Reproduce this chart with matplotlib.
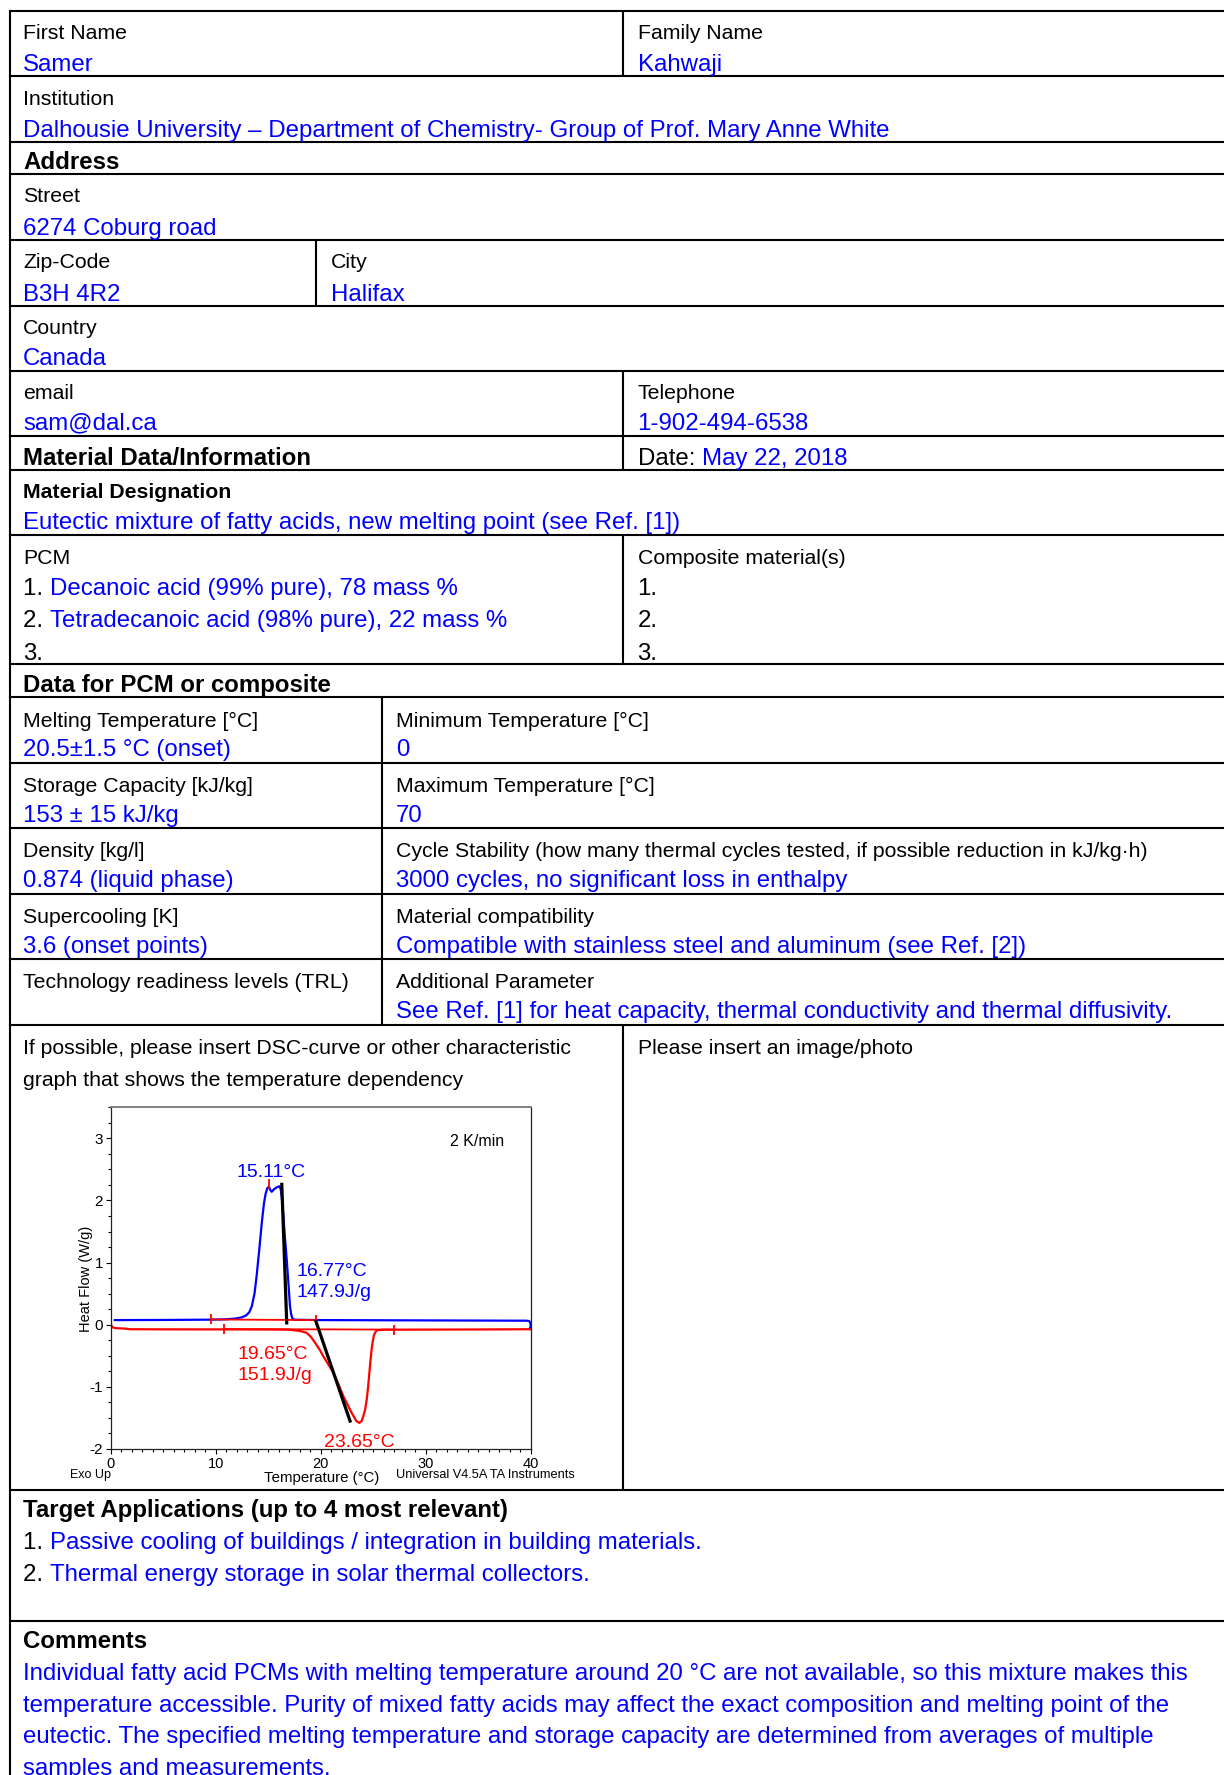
import matplotlib
matplotlib.use('Agg')
import matplotlib.pyplot as plt
from matplotlib.ticker import MultipleLocator, FixedLocator, FuncFormatter

plt.rcParams['font.family'] = ['Liberation Sans', 'DejaVu Sans']
plt.rcParams['axes.unicode_minus'] = False

BLUE = '#0000FF'
RED = '#FF0000'

# ---------------- DSC data ----------------
cool_T = [0.4, 5, 9.6, 11.0, 11.9, 12.5, 12.9, 13.2, 13.45, 13.7, 13.9, 14.15, 14.4, 14.6,
          14.75, 14.92, 15.09, 15.2, 15.34, 15.55, 15.8, 16.07, 16.2, 16.3, 16.45, 16.6,
          16.77, 16.95, 17.08, 17.2, 17.34, 17.6, 20, 30, 39.6, 39.85, 39.97, 40.0, 39.9]
cool_HF = [0.075, 0.077, 0.082, 0.088, 0.1, 0.12, 0.15, 0.2, 0.3, 0.5, 0.78, 1.2, 1.65, 1.95,
           2.1, 2.2, 2.22, 2.17, 2.14, 2.18, 2.21, 2.23, 2.18, 2.05, 1.75, 1.4,
           1.05, 0.62, 0.30, 0.16, 0.09, 0.08, 0.075, 0.07, 0.065, 0.06, 0.03, -0.02, -0.068]

heat_T = [0.0, 0.05, 0.15, 0.5, 1.4, 1.8, 5, 10, 15, 17, 18.04, 18.67, 19.1, 19.47, 19.9,
          20.26, 20.7, 21.2, 21.7, 22.16, 22.6, 22.96, 23.4, 23.69, 23.9, 24.07, 24.25,
          24.39, 24.52, 24.64, 24.75, 24.87, 24.98, 25.09, 25.25, 25.4, 26, 30, 35, 39.9]
heat_HF = [0.05, 0.0, -0.04, -0.055, -0.062, -0.072, -0.074, -0.075, -0.076, -0.08, -0.1,
           -0.13, -0.2, -0.29, -0.40, -0.51, -0.63, -0.77, -0.96, -1.15, -1.30, -1.42, -1.55,
           -1.58, -1.55, -1.47, -1.35, -1.2, -1.0, -0.77, -0.57, -0.37, -0.25, -0.16, -0.11,
           -0.087, -0.08, -0.078, -0.076, -0.072]

cool_tangent_T = [16.3, 16.77]
cool_tangent_HF = [2.26, 0.03]
heat_tangent_T = [19.56, 22.8]
heat_tangent_HF = [0.05, -1.55]
cool_integ_T = [9.6, 19.6]
cool_integ_HF = [0.085, 0.075]
heat_integ_T = [10.75, 27.0]
heat_integ_HF = [-0.07, -0.078]
cool_peak_T = [15.09]
cool_peak_HF = [2.26]

x_ticks = [0, 10, 20, 30, 40]
y_ticks = [-2, -1, 0, 1, 2, 3]

# annotations: (x, y, text, color, size, ha)
chart_notes = [
    (15.25, 2.385, '15.11°C', BLUE, 14, 'center'),
    (17.68, 0.78, '16.77°C', BLUE, 14, 'left'),
    (17.68, 0.45, '147.9J/g', BLUE, 14, 'left'),
    (12.13, -0.55, '19.65°C', RED, 14, 'left'),
    (12.13, -0.89, '151.9J/g', RED, 14, 'left'),
    (23.71, -1.96, '23.65°C', RED, 14, 'center'),
    (34.87, 2.88, '2 K/min', 'black', 11.5, 'center'),
]

# ---------------- Form content ----------------
first_name = 'Samer'
family_name = 'Kahwaji'
institution = 'Dalhousie University \u2013 Department of Chemistry- Group of Prof. Mary Anne White'
street = '6274 Coburg road'
zip_code = 'B3H 4R2'
city = 'Halifax'
country = 'Canada'
email = 'sam@dal.ca'
telephone = '1-902-494-6538'
date = 'May 22, 2018'
designation = 'Eutectic mixture of fatty acids, new melting point (see Ref. [1])'
pcm_items = ['Decanoic acid (99% pure), 78 mass %', 'Tetradecanoic acid (98% pure), 22 mass %', '']
prop_left_labels = ['Melting Temperature [°C]', 'Storage Capacity [kJ/kg]', 'Density [kg/l]',
                    'Supercooling [K]', 'Technology readiness levels (TRL)']
prop_left_values = ['20.5±1.5 °C (onset)', '153 ± 15 kJ/kg', '0.874 (liquid phase)',
                    '3.6 (onset points)', '']
prop_right_labels = ['Minimum Temperature [°C]', 'Maximum Temperature [°C]',
                     'Cycle Stability (how many thermal cycles tested, if possible reduction in kJ/kg\u00b7h)',
                     'Material compatibility', 'Additional Parameter']
prop_right_values = ['0', '70', '3000 cycles, no significant loss in enthalpy',
                     'Compatible with stainless steel and aluminum (see Ref. [2])',
                     'See Ref. [1] for heat capacity, thermal conductivity and thermal diffusivity.']
applications = ['Passive cooling of buildings / integration in building materials.',
                'Thermal energy storage in solar thermal collectors.']
comment_lines = [
    'Individual fatty acid PCMs with melting temperature around 20 °C are not available, so this mixture makes this',
    'temperature accessible. Purity of mixed fatty acids may affect the exact composition and melting point of the',
    'eutectic. The specified melting temperature and storage capacity are determined from averages of multiple',
    'samples and measurements.',
]

# ---------------- Page ----------------
W, H = 1224, 1775
fig = plt.figure(figsize=(W / 100, H / 100), dpi=100)
pax = fig.add_axes([0, 0, 1, 1])
pax.set_xlim(0, W)
pax.set_ylim(H, 0)
pax.axis('off')
renderer = fig.canvas.get_renderer()

LW = 1.5
XL = 9.5
VAL = 17.3
LAB = 15.3


def hline(y):
    pax.plot([XL, W], [y, y], color='black', lw=LW, solid_capstyle='projecting')


def vline(x, y0, y1):
    pax.plot([x, x], [y0, y1], color='black', lw=LW, solid_capstyle='butt')


def txt(x, y, s, size=LAB, color='black', weight='normal'):
    return pax.text(x, y, s, fontsize=size, color=color, fontweight=weight,
                    ha='left', va='baseline')


def pair(x, y, prefix, value, size=VAL):
    t = txt(x, y, prefix, size=size)
    bb = t.get_window_extent(renderer=renderer)
    txt(x + bb.width, y, value, size=size, color=BLUE)


# horizontal rules
for y in [11, 76, 141.5, 174.4, 240, 305.7, 370.7, 435.7, 470, 535, 664, 697.3,
          762.7, 827.7, 893.7, 958.7, 1024.7, 1490, 1620.7]:
    hline(y)
vline(XL, 11, H)
vline(623, 11, 76)
vline(316, 240, 305.7)
vline(623, 370.7, 470)
vline(623, 535, 664)
vline(382, 697.3, 1024.7)
vline(623, 1024.7, 1490)

XA, XB, XC, XD = 23, 637.5, 330.6, 396

txt(XA, 39.3, 'First Name'); txt(XB, 39.3, 'Family Name')
txt(XA, 70.9, first_name, VAL, BLUE); txt(XB, 70.9, family_name, VAL, BLUE)
txt(XA, 105, 'Institution'); txt(XA, 136.6, institution, VAL, BLUE)
txt(XA, 169.4, 'Address', VAL, weight='bold')
txt(XA, 202.4, 'Street'); txt(XA, 235.1, street, VAL, BLUE)
txt(XA, 268, 'Zip-Code'); txt(XC, 268, 'City')
txt(XA, 300.6, zip_code, VAL, BLUE); txt(XC, 300.6, city, VAL, BLUE)
txt(XA, 333.6, 'Country'); txt(XA, 365.3, country, VAL, BLUE)
txt(XA, 399.4, 'email'); txt(XB, 399.4, 'Telephone')
txt(XA, 429.8, email, VAL, BLUE); txt(XB, 429.8, telephone, VAL, BLUE)
txt(XA, 464.9, 'Material Data/Information', VAL, weight='bold')
pair(XB, 464.9, 'Date: ', date)
txt(XA, 497.9, 'Material Designation', LAB, weight='bold')
txt(XA, 529.5, designation, VAL, BLUE)
txt(XA, 563.6, 'PCM'); txt(XB, 563.6, 'Composite material(s)')
for i, (item, yb) in enumerate(zip(pcm_items, [595.1, 626.8, 659.6])):
    if item:
        pair(XA, yb, f'{i + 1}. ', item)
    else:
        txt(XA, yb, f'{i + 1}.', VAL)
    txt(XB, yb, f'{i + 1}.', VAL)
txt(XA, 691.6, 'Data for PCM or composite', VAL, weight='bold')
for top, ll, lv, rl, rv in zip([697.3, 762.7, 827.7, 893.7, 958.7], prop_left_labels,
                               prop_left_values, prop_right_labels, prop_right_values):
    txt(XA, top + 29.4, ll)
    txt(XD, top + 29.4, rl)
    if lv:
        txt(XA, top + 59.0, lv, VAL, BLUE)
    if rv:
        txt(XD, top + 59.0, rv, VAL, BLUE)
txt(XA, 1053.8, 'If possible, please insert DSC-curve or other characteristic')
txt(XA, 1085.6, 'graph that shows the temperature dependency')
txt(XB, 1053.8, 'Please insert an image/photo')
txt(XA, 1516.7, 'Target Applications (up to 4 most relevant)', VAL, weight='bold')
for i, (app, yb) in enumerate(zip(applications, [1549, 1580.7])):
    pair(XA, yb, f'{i + 1}. ', app)
txt(XA, 1648.3, 'Comments', VAL, weight='bold')
for line, yb in zip(comment_lines, [1680, 1711.7, 1743.3, 1774.5]):
    txt(XA, yb, line, VAL, BLUE)

# ---------------- DSC chart ----------------
ax_l, ax_r, ax_t, ax_b = 110.6, 530.7, 1107.3, 1449
ax = fig.add_axes([ax_l / W, (H - ax_b) / H, (ax_r - ax_l) / W, (ax_b - ax_t) / H])
ax.set_facecolor('white')
ax.plot(cool_T, cool_HF, color=BLUE, lw=1.6, solid_joinstyle='round')
ax.plot(heat_T, heat_HF, color=RED, lw=1.6, solid_joinstyle='round')
ax.plot(cool_integ_T, cool_integ_HF, color=RED, lw=1.3, marker='|', ms=7, mew=1.3)
ax.plot(heat_integ_T, heat_integ_HF, color=RED, lw=1.3, marker='|', ms=7, mew=1.3)
ax.plot(cool_peak_T, cool_peak_HF, color=RED, marker='|', ms=7, mew=1.3, ls='none')
ax.plot(cool_tangent_T, cool_tangent_HF, color='black', lw=2.3)
ax.plot(heat_tangent_T, heat_tangent_HF, color='black', lw=2.3)
for x, y, s, c, fs, ha in chart_notes:
    ax.text(x, y, s, color=c, fontsize=fs, ha=ha, va='baseline')

ax.set_xlim(0, 40)
ax.set_ylim(-2, 3.5)
ax.xaxis.set_major_locator(FixedLocator(x_ticks))
ax.yaxis.set_major_locator(FixedLocator(y_ticks))
ax.xaxis.set_minor_locator(MultipleLocator(1))
ax.yaxis.set_minor_locator(MultipleLocator(0.25))
fmt = FuncFormatter(lambda v, p: f'{v:g}')
ax.xaxis.set_major_formatter(fmt)
ax.yaxis.set_major_formatter(fmt)
ax.tick_params(axis='both', which='major', direction='out', length=3.5, width=0.8, pad=2)
ax.tick_params(axis='both', which='minor', direction='out', length=2.5, width=0.8)
ax.tick_params(axis='x', labelsize=10.5, pad=2.5)
ax.tick_params(axis='y', labelsize=11, pad=2)
for s in ['left', 'bottom', 'right']:
    ax.spines[s].set_linewidth(0.9)
    ax.spines[s].set_color('#222222')
ax.spines['top'].set_linewidth(1.3)
ax.spines['top'].set_color('#777777')

ax.text((85.8 - ax_l) / (ax_r - ax_l), (ax_b - 1279) / (ax_b - ax_t), 'Heat Flow (W/g)',
        transform=ax.transAxes, rotation=90, ha='center', va='center', fontsize=10.5)
pax.text(321.7, 1481.7, 'Temperature (°C)', ha='center', va='baseline', fontsize=10.8)
pax.text(70.3, 1478, 'Exo Up', ha='left', va='baseline', fontsize=9)
pax.text(395.7, 1478, 'Universal V4.5A TA Instruments', ha='left', va='baseline', fontsize=9.2)

fig.savefig('out.png', dpi=100)
